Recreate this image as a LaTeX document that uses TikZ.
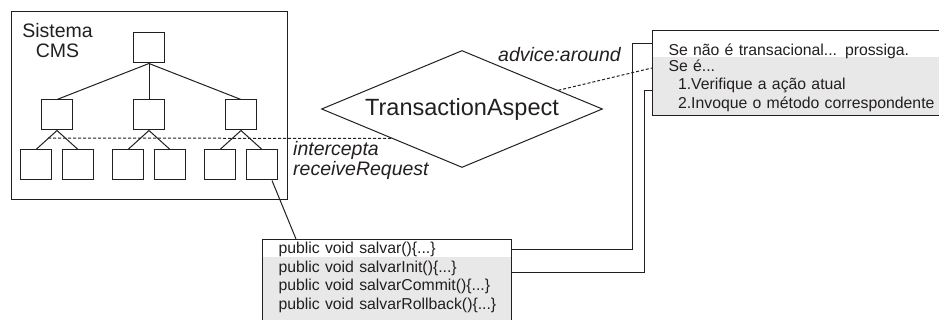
\documentclass[tikz,border=0pt]{standalone}
\usepackage{fontspec}
\setmainfont{Liberation Sans}
\usepackage{xcolor}
\usetikzlibrary{shapes.geometric, positioning}

\definecolor{tinta}{HTML}{231F20}
\definecolor{cinza}{HTML}{E8E8E8}

\begin{document}
\begin{tikzpicture}[
    x=1pt, y=-1pt,
    every node/.style={text=tinta},
    linha/.style={draw=tinta, line width=1pt},
    quad/.style={linha, rectangle, minimum width=31pt, minimum height=30pt, inner sep=0pt},
    tracejado/.style={draw=tinta, line width=1pt, dash pattern=on 3pt off 2pt},
    rotulo/.style={font=\fontsize{19.5}{20}\selectfont\itshape, inner sep=0pt, align=left},
    lista/.style={linha, fill=cinza, align=left, inner xsep=16pt, font=\fontsize{15.8}{18.7}\selectfont}
]
    \useasboundingbox (0,0) rectangle (939,320);
    \clip (0,0) rectangle (939,320);

    % Sistema CMS
    \node[linha, minimum width=276pt, minimum height=188pt] (cms) at (149,106) {};
    \node[anchor=north, inner sep=0pt, align=center, font=\fontsize{19.5}{20}\selectfont] (titulo) at (57.5,23) {Sistema\\CMS};

    % arvore de componentes
    \node[quad] (raiz) at (149,48) {};
    \node[quad, below=36pt of raiz] (meio2) {};
    \node[quad, left=60pt of meio2] (meio1) {};
    \node[quad, right=60pt of meio2] (meio3) {};
    \node[quad, below=19pt of meio1, xshift=-21pt] (folha1) {};
    \node[quad, below=19pt of meio1, xshift=21pt] (folha2) {};
    \node[quad, below=19pt of meio2, xshift=-21pt] (folha3) {};
    \node[quad, below=19pt of meio2, xshift=21pt] (folha4) {};
    \node[quad, below=19pt of meio3, xshift=-21pt] (folha5) {};
    \node[quad, below=19pt of meio3, xshift=21pt] (folha6) {};

    \draw[linha] (raiz.south) -- (meio1.north);
    \draw[linha] (raiz.south) -- (meio2.north);
    \draw[linha] (raiz.south) -- (meio3.north);
    \draw[linha] (meio1.south) -- (folha1.north);
    \draw[linha] (meio1.south) -- (folha2.north);
    \draw[linha] (meio2.south) -- (folha3.north);
    \draw[linha] (meio2.south) -- (folha4.north);
    \draw[linha] (meio3.south) -- (folha5.north);
    \draw[linha] (meio3.south) -- (folha6.north);

    % Aspecto
    \node[diamond, linha, aspect=2.4, minimum width=281pt, minimum height=117pt, inner sep=0pt, font=\fontsize{23.5}{26}\selectfont] (aspecto) at (462,109) {TransactionAspect};
    \node[rotulo, anchor=base west] (advice) at (498,62) {advice:around};
    \node[rotulo, anchor=north west] (intercepta) at (293,141) {intercepta\\receiveRequest};

    % Regra do aspecto
    \node[lista, anchor=north west, text width=300pt, minimum height=85pt,
        path picture={\fill[white] (path picture bounding box.north west) rectangle ([yshift=-27pt]path picture bounding box.north east);}]
        (regra) at (652,30) {\rule{0pt}{21pt}Se não é transacional... prossiga.\\[-3pt]Se é...\\\hspace*{9.5pt}1.Verifique a ação atual\\\hspace*{9.5pt}2.Invoque o método correspondente};

    % Metodos
    \node[lista, anchor=north west, text width=217pt, inner ysep=2.6pt,
        path picture={\fill[white] (path picture bounding box.north west) rectangle ([yshift=-18pt]path picture bounding box.north east);}]
        (metodos) at (262,239) {\mbox{public void salvar()\{...\}}\\\mbox{public void salvarInit()\{...\}}\\\mbox{public void salvarCommit()\{...\}}\\\mbox{public void salvarRollback()\{...\}}\rule[-14pt]{0pt}{1pt}};

    % Conexoes
    \coordinate (corte) at (48,138);
    \draw[tracejado] (corte) -- (aspecto.south west);
    \draw[tracejado] (aspecto.11) -- ([yshift=-38pt]regra.north west);
    \draw[linha] ([xshift=10pt]folha6.south) -- ([xshift=34pt]metodos.north west);
    \draw[linha] ([yshift=-11pt]metodos.north east) -- ++(120,0) |- ([yshift=-14pt]regra.north west);
    \draw[linha] ([yshift=-33pt]metodos.north east) -- ++(132,0) |- ([yshift=-61pt]regra.north west);
\end{tikzpicture}
\end{document}
